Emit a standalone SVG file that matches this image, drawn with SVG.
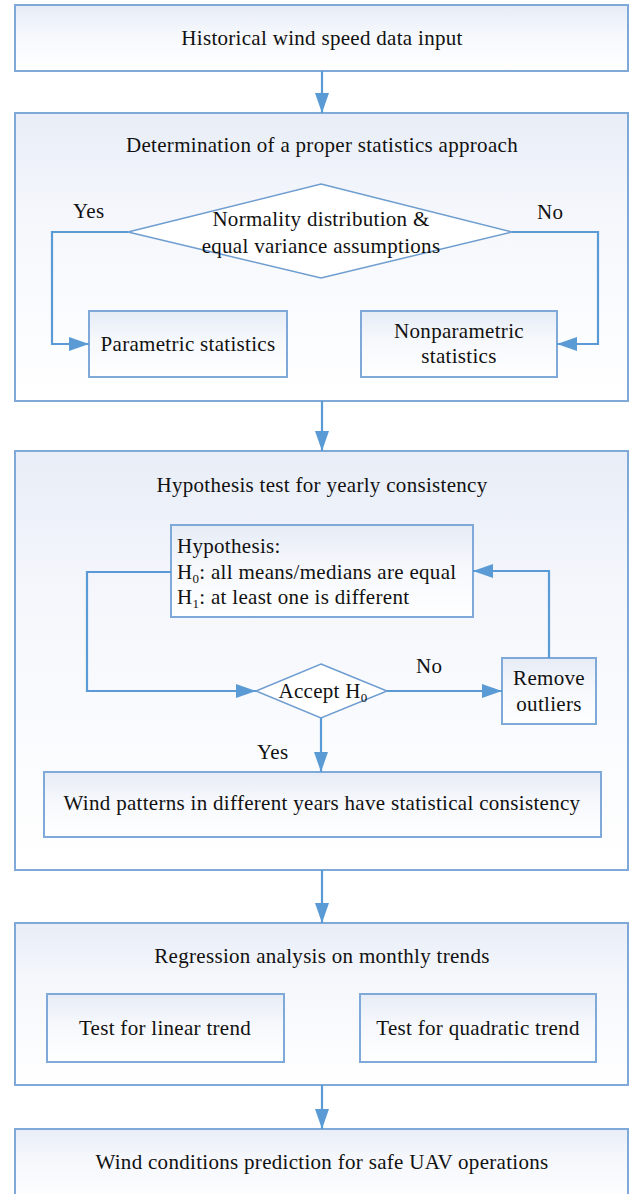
<svg xmlns="http://www.w3.org/2000/svg" width="644" height="1194" viewBox="0 0 644 1194">
<defs>
<linearGradient id="g" x1="0" y1="0" x2="0" y2="1">
<stop offset="0" stop-color="#E6ECF6"/>
<stop offset="0.45" stop-color="#F6F8FC"/>
<stop offset="1" stop-color="#FFFFFF"/>
</linearGradient>
<linearGradient id="gb" x1="0" y1="0" x2="0" y2="1">
<stop offset="0" stop-color="#E8EDF7"/>
<stop offset="0.35" stop-color="#F5F7FC"/>
<stop offset="1" stop-color="#FFFFFF"/>
</linearGradient>
<marker id="arr" viewBox="0 0 20 14" refX="20" refY="7" markerWidth="20" markerHeight="14" markerUnits="userSpaceOnUse" orient="auto">
<path d="M0,0 L20,7 L0,14 Z" fill="#5B9BD5"/>
</marker>
<style>
.box{fill:url(#g);stroke:#7EA9D8;stroke-width:2}
.big{fill:url(#gb);stroke:#7EA9D8;stroke-width:2}
.dia{fill:#FFFFFF;stroke:#6E9DD0;stroke-width:1.5}
text{font-family:'Liberation Serif','Times New Roman',serif;font-size:21px;letter-spacing:0.3px;fill:#111111}
.c{text-anchor:middle}
.ln{fill:none;stroke:#5B9BD5;stroke-width:2.2}
</style>
</defs>

<g id="n_input">
<rect class="box" x="15" y="5" width="613" height="66"/>
<text class="c" x="322" y="45">Historical wind speed data input</text>
</g>

<g id="n_stats">
<rect class="big" x="15" y="113" width="613" height="288"/>
<text class="c" x="322" y="152">Determination of a proper statistics approach</text>
</g>

<g id="n_normality">
<polygon class="dia" points="321,184 512,232 321,278 128,232"/>
<text class="c" x="321" y="226">Normality distribution &amp;</text>
<text class="c" x="321" y="253">equal variance assumptions</text>
</g>

<g id="n_param">
<rect class="box" x="89" y="311" width="198" height="66"/>
<text class="c" x="188" y="351">Parametric statistics</text>
</g>

<g id="n_nonparam">
<rect class="box" x="361" y="311" width="196" height="66"/>
<text class="c" x="459" y="338">Nonparametric</text>
<text class="c" x="459" y="363">statistics</text>
</g>

<g id="n_hyptest">
<rect class="big" x="15" y="451" width="613" height="419"/>
<text class="c" x="322" y="492">Hypothesis test for yearly consistency</text>
</g>

<g id="n_hypothesis">
<rect class="box" x="171" y="525" width="302" height="92"/>
<text x="177" y="553">Hypothesis:</text>
<text x="177" y="579">H<tspan font-size="13" dy="4">0</tspan><tspan dy="-4">: all means/medians are equal</tspan></text>
<text x="177" y="604">H<tspan font-size="13" dy="4">1</tspan><tspan dy="-4">: at least one is different</tspan></text>
</g>

<g id="n_accept">
<polygon class="dia" points="321,664 387,691 321,718 256,691"/>
<text class="c" x="323" y="698">Accept H<tspan font-size="13" dy="4">0</tspan></text>
</g>

<g id="n_remove">
<rect class="box" x="502" y="658" width="94" height="66"/>
<text class="c" x="549" y="685">Remove</text>
<text class="c" x="549" y="711">outliers</text>
</g>

<g id="n_consistency">
<rect class="box" x="44" y="772" width="557" height="65"/>
<text class="c" x="322" y="810">Wind patterns in different years have statistical consistency</text>
</g>

<g id="n_regression">
<rect class="big" x="15" y="923" width="613" height="162"/>
<text class="c" x="322" y="963">Regression analysis on monthly trends</text>
</g>

<g id="n_linear">
<rect class="box" x="47" y="994" width="237" height="68"/>
<text class="c" x="165" y="1035">Test for linear trend</text>
</g>

<g id="n_quadratic">
<rect class="box" x="360" y="994" width="236" height="68"/>
<text class="c" x="478" y="1035">Test for quadratic trend</text>
</g>

<g id="n_prediction">
<rect class="big" x="15" y="1129" width="613" height="80"/>
<text class="c" x="322" y="1169">Wind conditions prediction for safe UAV operations</text>
</g>

<g id="connectors">
<line class="ln" x1="322" y1="71" x2="322" y2="113" marker-end="url(#arr)"/>
<polyline class="ln" points="128,232 52,232 52,344 89,344" marker-end="url(#arr)"/>
<polyline class="ln" points="512,232 598,232 598,344 557,344" marker-end="url(#arr)"/>
<line class="ln" x1="322" y1="401" x2="322" y2="451" marker-end="url(#arr)"/>
<polyline class="ln" points="171,572 87,572 87,691 256,691" marker-end="url(#arr)"/>
<line class="ln" x1="387" y1="691" x2="502" y2="691" marker-end="url(#arr)"/>
<polyline class="ln" points="549,658 549,571 473,571" marker-end="url(#arr)"/>
<line class="ln" x1="321" y1="718" x2="321" y2="772" marker-end="url(#arr)"/>
<line class="ln" x1="322" y1="870" x2="322" y2="923" marker-end="url(#arr)"/>
<line class="ln" x1="322" y1="1085" x2="322" y2="1129" marker-end="url(#arr)"/>
<text x="73" y="218">Yes</text>
<text x="537" y="219">No</text>
<text x="416" y="673">No</text>
<text x="257" y="759">Yes</text>
</g>
</svg>
